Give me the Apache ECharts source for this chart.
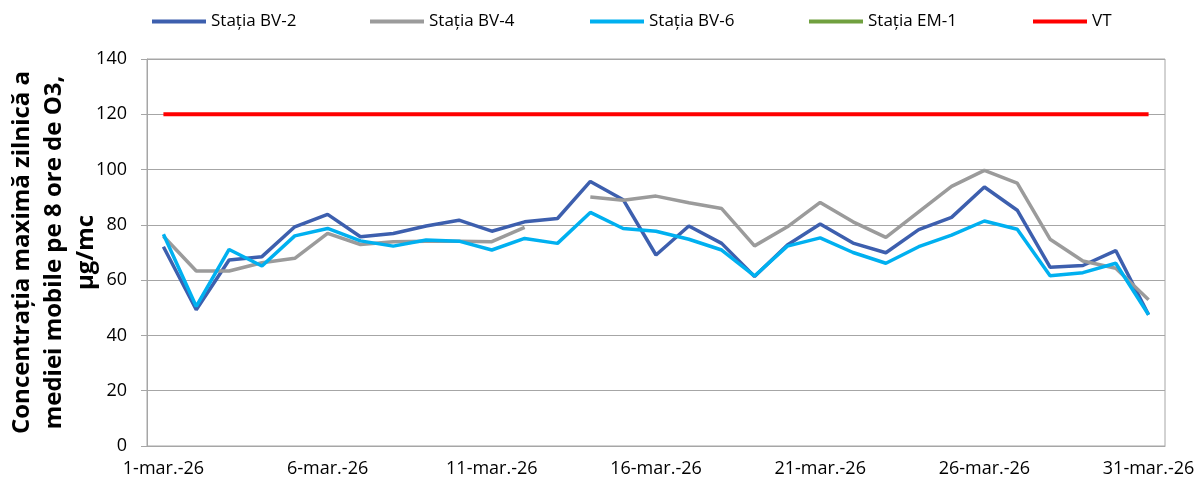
<!DOCTYPE html>
<html lang="ro" style="height: 100%">
<head>
    <meta charset="utf-8">
</head>
<body style="height: 100%; margin: 0; background: #fff">
<div id="container" style="width: 1198px; height: 483px"></div>

<script type="text/javascript" src="https://fastly.jsdelivr.net/npm/echarts@6/dist/echarts.min.js"></script>

<script type="text/javascript">
    // zilele lunii martie 2026
    var days = ['1-mar.-26', '2-mar.-26', '3-mar.-26', '4-mar.-26', '5-mar.-26', '6-mar.-26', '7-mar.-26',
        '8-mar.-26', '9-mar.-26', '10-mar.-26', '11-mar.-26', '12-mar.-26', '13-mar.-26', '14-mar.-26',
        '15-mar.-26', '16-mar.-26', '17-mar.-26', '18-mar.-26', '19-mar.-26', '20-mar.-26', '21-mar.-26',
        '22-mar.-26', '23-mar.-26', '24-mar.-26', '25-mar.-26', '26-mar.-26', '27-mar.-26', '28-mar.-26',
        '29-mar.-26', '30-mar.-26', '31-mar.-26'];

    var bv2 = [72.1, 49.3, 67.3, 68.5, 79.3, 83.8, 75.7, 76.9, 79.6, 81.7, 77.7, 81.1, 82.3, 95.7, 89.1, 69.1,
        79.6, 73.3, 61.3, 72.7, 80.3, 73.4, 69.9, 78.3, 82.7, 93.7, 85.3, 64.7, 65.3, 70.7, 47.5];
    var bv4 = [75.9, 63.3, 63.3, 66.3, 67.9, 76.9, 72.9, 73.9, 74.1, 74.1, 73.9, 79.1, null, 90.1, 88.9, 90.4,
        88.0, 85.9, 72.4, 79.3, 88.1, 81.1, 75.5, 84.7, 93.9, 99.7, 95.1, 74.8, 66.9, 64.3, 52.9];
    var bv6 = [76.6, 50.5, 71.1, 65.1, 76.0, 78.7, 74.2, 72.3, 74.5, 74.1, 70.9, 75.1, 73.3, 84.5, 78.7, 77.7,
        74.8, 70.9, 61.5, 72.3, 75.3, 70.0, 66.1, 72.1, 76.3, 81.4, 78.4, 61.6, 62.7, 66.1, 47.5];
    var em1 = [];   // fara date
    var vt = [120, 120, 120, 120, 120, 120, 120, 120, 120, 120, 120, 120, 120, 120, 120, 120,
        120, 120, 120, 120, 120, 120, 120, 120, 120, 120, 120, 120, 120, 120, 120];

    var names = ['Staţia BV-2', 'Staţia BV-4', 'Staţia BV-6', 'Staţia EM-1', 'VT'];
    var colors = ['#3d5fae', '#9b9b9b', '#00b0f0', '#70a03f', '#ff0000'];
    var values = [bv2, bv4, bv6, em1, vt];
    var legendLeft = [152, 370, 590, 809, 1033];

    var font = '"Open Sans", sans-serif';
    var gridColor = '#a6a6a6';

    var dom = document.getElementById('container');
    var myChart = echarts.init(dom, null, {renderer: 'canvas'});

    var option = {
        animation: false,
        backgroundColor: '#fff',
        textStyle: {fontFamily: font},
        legend: names.map(function (n, i) {
            return {
                data: [n],
                left: legendLeft[i],
                top: 13,
                padding: 0,
                icon: 'rect',
                itemWidth: 54,
                itemHeight: 4,
                textStyle: {fontFamily: font, fontSize: 17, color: '#000'}
            };
        }),
        grid: {
            left: 147,
            right: 33,
            top: 59,
            bottom: 37,
            containLabel: false,
            outerBoundsMode: 'none',
            show: true,
            borderColor: gridColor,
            borderWidth: 1
        },
        xAxis: {
            type: 'category',
            data: days,
            boundaryGap: true,
            axisLine: {lineStyle: {color: gridColor, width: 1}},
            axisTick: {interval: 4, length: 5, lineStyle: {color: gridColor}},
            axisLabel: {interval: 4, margin: 14, fontFamily: font, fontSize: 18, color: '#000'},
            splitLine: {show: false}
        },
        yAxis: {
            type: 'value',
            min: 0,
            max: 140,
            interval: 20,
            name: 'Concentrația maximă zilnică a\nmediei mobile pe 8 ore de O3,\nµg/mc',
            nameLocation: 'middle',
            nameRotate: 90,
            nameGap: 93,
            nameMoveOverlap: false,
            nameTextStyle: {
                fontFamily: font, fontSize: 24, fontWeight: 'bold', color: '#000',
                lineHeight: 32, align: 'center', verticalAlign: 'middle'
            },
            axisLine: {show: true, lineStyle: {color: gridColor, width: 1}},
            axisTick: {show: true, length: 6, lineStyle: {color: gridColor}},
            axisLabel: {margin: 20, fontFamily: font, fontSize: 18, color: '#000'},
            splitLine: {lineStyle: {color: gridColor, width: 1}}
        },
        series: names.map(function (n, i) {
            return {
                name: n,
                type: 'line',
                data: values[i],
                color: colors[i],
                symbol: 'none',
                connectNulls: false,
                lineStyle: {width: i === 4 ? 4 : 3.5, color: colors[i]}
            };
        })
    };

    myChart.setOption(option);
    window.addEventListener('resize', myChart.resize);
</script>
</body>
</html>
